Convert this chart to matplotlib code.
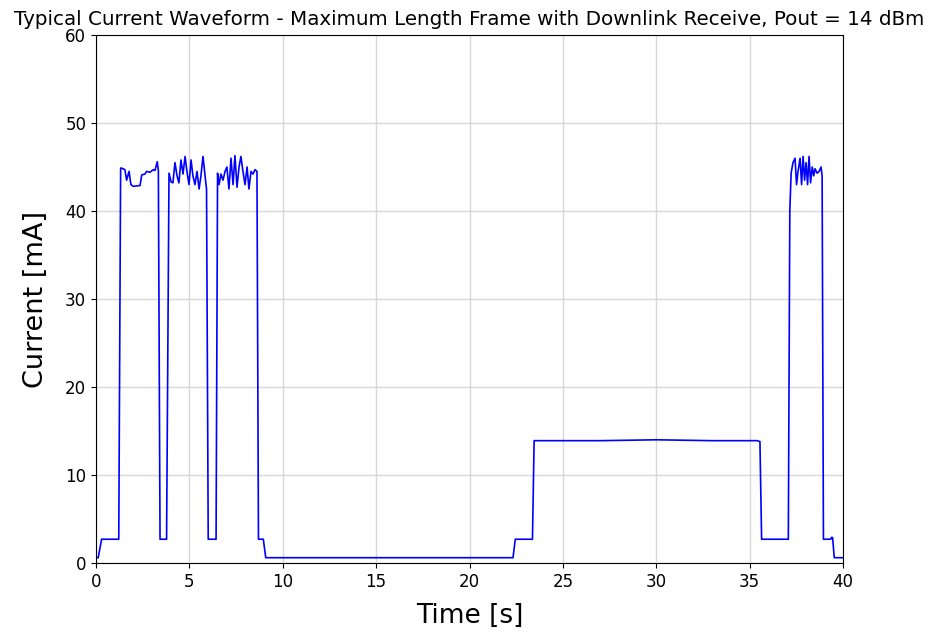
import numpy as np
import matplotlib.pyplot as plt

# Breakpoints of the current waveform
time_s = [
    0.0, 0.12, 0.30, 1.22, 1.32,
    # burst 1
    1.34, 1.55, 1.64, 1.77, 1.87, 2.00, 2.36, 2.45, 2.62, 2.71, 2.89, 3.07, 3.16, 3.28, 3.34,
    3.43, 3.78,
    # burst 2
    3.91, 4.02, 4.12, 4.23, 4.34, 4.44, 4.55, 4.66, 4.77, 4.87, 4.98, 5.09, 5.19, 5.30,
    5.41, 5.52, 5.62, 5.73, 5.84, 5.92,
    6.01, 6.43,
    # burst 3
    6.51, 6.59, 6.69, 6.80, 6.91, 7.01, 7.12, 7.23, 7.34, 7.44, 7.55, 7.66, 7.76, 7.87,
    7.98, 8.09, 8.19, 8.30, 8.41, 8.51, 8.62,
    8.70, 8.96, 9.09,
    # sleep / receive window
    22.33, 22.45, 23.37, 23.46, 27.0, 30.0, 33.0, 35.40, 35.55, 35.64, 37.07, 37.15,
    # burst 4
    37.22, 37.32, 37.43, 37.51, 37.59, 37.70, 37.78, 37.86, 37.94, 38.02, 38.10, 38.18,
    38.26, 38.35, 38.43, 38.50, 38.61, 38.72, 38.82, 38.88,
    38.95, 39.34, 39.38, 39.44, 39.53, 40.0,
]
current_ma = [
    0.6, 0.6, 2.7, 2.7, 44.8,
    44.9, 44.7, 43.5, 44.5, 43.0, 42.8, 42.9, 44.1, 44.2, 44.5, 44.4, 44.7, 44.6, 45.6, 44.6,
    2.7, 2.7,
    44.3, 43.3, 43.2, 45.5, 44.0, 43.2, 45.8, 44.2, 46.2, 44.5, 43.0, 45.8, 44.0, 43.0,
    44.5, 42.5, 44.0, 46.2, 44.0, 42.5,
    2.7, 2.7,
    44.3, 43.0, 44.2, 43.5, 44.5, 45.0, 42.5, 46.0, 43.0, 46.3, 42.7, 45.0, 46.2, 44.5,
    43.0, 45.0, 42.5, 44.5, 44.2, 44.7, 44.5,
    2.7, 2.7, 0.6,
    0.6, 2.7, 2.7, 13.9, 13.9, 14.0, 13.9, 13.9, 13.8, 2.7, 2.7, 40.0,
    44.3, 45.5, 46.0, 43.0, 44.5, 46.0, 43.0, 46.2, 43.5, 45.5, 43.0, 46.2,
    43.2, 45.0, 44.0, 44.8, 44.3, 44.5, 45.0, 44.0,
    2.7, 2.7, 2.9, 2.9, 0.6, 0.6,
]

fig = plt.figure(figsize=(9.3, 6.32), dpi=100)
ax = fig.add_axes([0.1032, 0.1092, 0.8033, 0.8354])
ax.plot(time_s, current_ma, color='blue', linewidth=1.2)
ax.set_xlim(0, 40)
ax.set_ylim(0, 60)
ax.set_xticks(np.arange(0, 41, 5))
ax.set_yticks(np.arange(0, 61, 10))
ax.tick_params(labelsize=12)
ax.grid(True, color='#d8d8d8', linewidth=1.0)
ax.set_axisbelow(True)
ax.set_xlabel('Time [s]', fontsize=19, labelpad=9)
ax.set_ylabel('Current [mA]', fontsize=19.5, labelpad=12)
ax.set_title('Typical Current Waveform - Maximum Length Frame with Downlink Receive, Pout = 14 dBm',
             fontsize=14.3, pad=7)
fig.savefig('out.png', dpi=100)
